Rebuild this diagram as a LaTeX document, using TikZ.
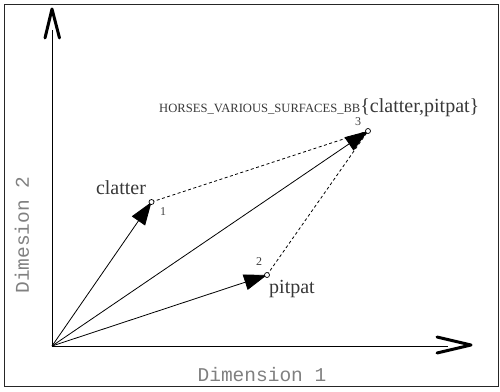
\documentclass[tikz,border=0pt]{standalone}
\usepackage{fontspec}
\setmainfont{Liberation Serif}
\setmonofont{Liberation Mono}
\usetikzlibrary{arrows.meta}
\begin{document}
\begin{tikzpicture}[x=1pt,y=-1pt,
  pt/.style={circle,draw,fill=white,inner sep=0pt,minimum size=5pt,line width=0.7pt},
  vec/.style={line width=0.8pt,-{Triangle[length=23pt,width=16pt]}},
  dashln/.style={line width=0.8pt,dash pattern=on 3pt off 2.5pt},
  chev/.style={line width=3pt,line cap=round,line join=round},
  lab/.style={text=black!78,font=\fontsize{20}{22}\selectfont,inner sep=0pt},
  num/.style={text=black!75,font=\fontsize{12}{13}\selectfont,inner sep=0pt},
  axlab/.style={text=black!50,font=\ttfamily\fontsize{19.5}{21}\selectfont,inner sep=0pt}]
\useasboundingbox (0,0) rectangle (500,391);
\draw[line width=1.5pt,black!85] (4.5,4.5) rectangle (498.5,386.5);
% axes
\coordinate (o) at (52,346);
\coordinate (ytop) at (52,30);
\coordinate (xend) at (448,346);
\draw[line width=0.8pt] (o) -- (ytop);
\draw[line width=0.8pt] (o) -- (xend);
\coordinate (yt) at (52,9);
\coordinate (yl) at (45,38);
\coordinate (yr) at (59.5,38);
\draw[chev] (yl) -- (yt) -- (yr);
\coordinate (xt) at (471,345);
\coordinate (xa) at (437,337);
\coordinate (xb) at (437,353);
\draw[chev] (xa) -- (xt) -- (xb);
\node[axlab] (xl) at (262,375) {Dimension 1};
\node[axlab,rotate=90] (yl2) at (22,235) {Dimesion 2};
% points
\coordinate (c1) at (151.5,202);
\coordinate (c2) at (267,275);
\coordinate (c3) at (368,131);
\draw[dashln] (c1) -- (c3);
\draw[dashln] (c2) -- (c3);
\node[num] (n3) at (358,122) {3};
\draw[vec] (o) -- (c1);
\draw[vec] (o) -- (c2);
\draw[vec] (o) -- (c3);
\node[pt] (p1) at (c1) {};
\node[pt] (p2) at (c2) {};
\node[pt] (p3) at (c3) {};
\node[num] (n1) at (163,212) {1};
\node[num] (n2) at (259,262) {2};
\node[lab] (l1) at (121,188) {clatter};
\node[lab] (l2) at (292,289) {pitpat};
\node[lab,anchor=base west] (l3) at (159,112) {{\fontsize{12.6}{13}\selectfont HORSES\_VARIOUS\_SURFACES\_BB}\{clatter,pitpat\}};
\end{tikzpicture}
\end{document}
